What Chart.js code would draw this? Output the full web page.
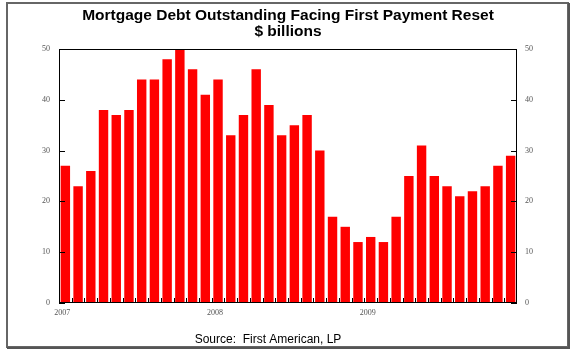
<!DOCTYPE html>
<html>
<head>
<meta charset="utf-8">
<script src="https://cdn.jsdelivr.net/npm/chart.js@4.4.1/dist/chart.umd.min.js"></script>
<style>
  html, body { margin: 0; padding: 0; background: #fff; }
  #wrap { width: 576px; height: 353px; position: relative; }
</style>
</head>
<body>
<div id="wrap"><canvas id="chart"></canvas></div>
<script>
// monthly resets, Jan 2007 - Dec 2009
const months = [
  "2007-01", "2007-02", "2007-03", "2007-04", "2007-05", "2007-06",
  "2007-07", "2007-08", "2007-09", "2007-10", "2007-11", "2007-12",
  "2008-01", "2008-02", "2008-03", "2008-04", "2008-05", "2008-06",
  "2008-07", "2008-08", "2008-09", "2008-10", "2008-11", "2008-12",
  "2009-01", "2009-02", "2009-03", "2009-04", "2009-05", "2009-06",
  "2009-07", "2009-08", "2009-09", "2009-10", "2009-11", "2009-12"
];
const resetDebt = [
  27, 23, 26, 38, 37, 38, 44, 44, 48, 50, 46, 41,
  44, 33, 37, 46, 39, 33, 35, 37, 30, 17, 15, 12,
  13, 12, 17, 25, 31, 25, 23, 21, 22, 23, 27, 29
];
const yTicks = [0, 10, 20, 30, 40, 50];

const titleText = "Mortgage Debt Outstanding Facing First Payment Reset";
const subtitleText = "$ billions";
const sourceText = "Source:  First American, LP";

const tickFont = { family: "Liberation Serif", size: 8 };

// frame, plot box, inner tick marks and the source line
const decor = {
  id: "decor",
  beforeDraw(chart) {
    const ctx = chart.ctx;
    ctx.save();
    ctx.fillStyle = "#fff";
    ctx.fillRect(0, 0, chart.width, chart.height);
    ctx.strokeStyle = "#666";
    ctx.lineWidth = 2;
    ctx.strokeRect(7, 3, 561, 344);
    ctx.strokeStyle = "#555";
    ctx.beginPath();
    ctx.moveTo(569, 3);
    ctx.lineTo(569, 348);
    ctx.lineTo(7, 348);
    ctx.stroke();
    ctx.restore();
  },
  afterDatasetsDraw(chart) {
    const ctx = chart.ctx;
    const a = chart.chartArea;
    const x = chart.scales.x;
    const y = chart.scales.y;
    ctx.save();
    ctx.strokeStyle = "#000";
    ctx.lineWidth = 1;
    ctx.strokeRect(a.left + 0.5, a.top + 0.5, a.right - a.left - 1, a.bottom - a.top - 1);
    ctx.beginPath();
    yTicks.forEach(v => {
      const py = Math.round(y.getPixelForValue(v)) + 0.5;
      ctx.moveTo(a.left, py);
      ctx.lineTo(a.left + 6, py);
      ctx.moveTo(a.right, py);
      ctx.lineTo(a.right - 6, py);
    });
    for (let i = 1; i < months.length; i++) {
      const px = Math.round((x.getPixelForValue(i - 1) + x.getPixelForValue(i)) / 2) + 0.5;
      ctx.moveTo(px, a.bottom);
      ctx.lineTo(px, a.bottom - 5);
    }
    ctx.stroke();
    ctx.restore();
  },
  afterDraw(chart) {
    const ctx = chart.ctx;
    ctx.save();
    ctx.fillStyle = "#000";
    ctx.font = "12px 'Liberation Sans'";
    ctx.textAlign = "center";
    ctx.textBaseline = "alphabetic";
    ctx.fillText(sourceText, 268, 343);
    ctx.restore();
  }
};

new Chart(document.getElementById("chart"), {
  type: "bar",
  data: {
    labels: months,
    datasets: [{
      data: resetDebt,
      backgroundColor: "#ff0000",
      barPercentage: 0.74,
      categoryPercentage: 1
    }]
  },
  options: {
    responsive: true,
    maintainAspectRatio: false,
    animation: false,
    layout: { padding: 0 },
    plugins: {
      legend: { display: false },
      tooltip: { enabled: false },
      title: {
        display: true,
        text: titleText,
        color: "#000",
        font: { family: "Liberation Sans", size: 15.5, weight: "bold", lineHeight: 1 },
        padding: { top: 8, bottom: 0 }
      },
      subtitle: {
        display: true,
        text: subtitleText,
        color: "#000",
        font: { family: "Liberation Sans", size: 15.5, weight: "bold", lineHeight: 1 },
        padding: { top: 0, bottom: 10 }
      }
    },
    scales: {
      x: {
        grid: { display: false, drawTicks: false },
        border: { display: false },
        ticks: {
          autoSkip: false,
          maxRotation: 0,
          padding: 5,
          labelOffset: -3,
          color: "#555",
          font: tickFont,
          callback: (v, i) => months[i].endsWith("-01") ? months[i].slice(0, 4) : ""
        },
        afterFit: s => { s.height = 50; }
      },
      y: {
        position: "left",
        min: 0,
        max: 50,
        grid: { display: false, drawTicks: false },
        border: { display: false },
        ticks: { stepSize: 10, padding: 9, color: "#555", font: tickFont },
        afterFit: s => { s.width = 59; }
      },
      y2: {
        position: "right",
        min: 0,
        max: 50,
        grid: { display: false, drawTicks: false },
        border: { display: false },
        ticks: { stepSize: 10, padding: 8, color: "#555", font: tickFont },
        afterFit: s => { s.width = 59; }
      }
    }
  },
  plugins: [decor]
});
</script>
</body>
</html>
